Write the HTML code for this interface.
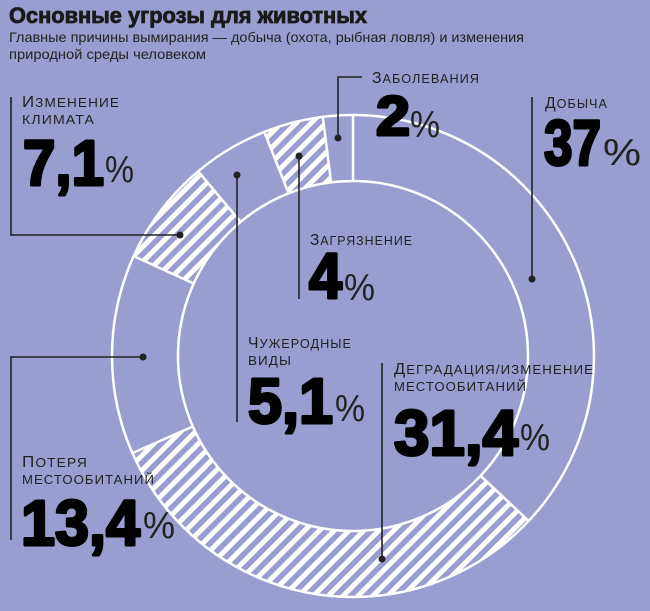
<!DOCTYPE html>
<html><head><meta charset="utf-8"><style>
html,body{margin:0;padding:0;background:#9a9dcf;}
svg{display:block;}
</style></head><body>
<svg width="650" height="611" viewBox="0 0 650 611" xmlns="http://www.w3.org/2000/svg" font-family="Liberation Sans, DejaVu Sans, sans-serif">
<defs>
<pattern id="h" width="10.5" height="10.5" patternUnits="userSpaceOnUse" patternTransform="rotate(45)">
<rect x="0" y="0" width="5" height="10.5" fill="#fff"/>
</pattern>
</defs>
<rect width="650" height="611" fill="#9a9dcf"/>
<path d="M528.7,521 A241,241 0 0 1 132.4,453.1 L192.8,426.5 A175,175 0 0 0 480.6,475.8 Z" fill="url(#h)"/>
<path d="M133.7,256.1 A241,241 0 0 1 198.2,171.3 L240.6,221.9 A175,175 0 0 0 193.7,283.5 Z" fill="url(#h)"/>
<path d="M264.3,131.9 A241,241 0 0 1 322.8,116.9 L331.1,182.4 A175,175 0 0 0 288.6,193.3 Z" fill="url(#h)"/>
<circle cx="353" cy="356" r="241" fill="none" stroke="#fff" stroke-width="2.5"/>
<circle cx="353" cy="356" r="175" fill="none" stroke="#fff" stroke-width="2.5"/>
<g stroke="#fff" stroke-width="2.5">
<line x1="353" y1="115" x2="353" y2="181"/>
<line x1="322.8" y1="116.9" x2="331.1" y2="182.4"/>
<line x1="264.3" y1="131.9" x2="288.6" y2="193.3"/>
<line x1="198.2" y1="171.3" x2="240.6" y2="221.9"/>
<line x1="133.7" y1="256.1" x2="193.7" y2="283.5"/>
<line x1="132.4" y1="453.1" x2="192.8" y2="426.5"/>
<line x1="528.7" y1="521" x2="480.6" y2="475.8"/>
</g>
<g stroke="#222" stroke-width="1.6" fill="none">
<polyline points="362,77 338,77 338,138"/>
<polyline points="11,97 11,235 180,235"/>
<line x1="532" y1="97" x2="532" y2="279"/>
<line x1="299" y1="156" x2="299" y2="299"/>
<line x1="237" y1="175" x2="237" y2="422"/>
<line x1="382" y1="363" x2="382" y2="559"/>
<polyline points="143,357 11,357 11,540"/>
</g>
<g fill="#222">
<circle cx="338" cy="138" r="3.5"/>
<circle cx="180" cy="235" r="3.5"/>
<circle cx="532" cy="279" r="3.5"/>
<circle cx="299" cy="156" r="3.5"/>
<circle cx="237" cy="175" r="3.5"/>
<circle cx="382" cy="559" r="3.5"/>
<circle cx="143" cy="357" r="3.5"/>
</g>
<text x="9" y="23" font-size="22" font-weight="bold" fill="#1a1a1a" stroke="#1a1a1a" stroke-width="0.8" textLength="358" lengthAdjust="spacingAndGlyphs">Основные угрозы для животных</text>
<g font-size="14" fill="#222">
<text x="9" y="42" textLength="515" lengthAdjust="spacingAndGlyphs">Главные причины вымирания — добыча (охота, рыбная ловля) и изменения</text>
<text x="9" y="59" textLength="197" lengthAdjust="spacingAndGlyphs">природной среды человеком</text>
</g>
<g font-size="12.5" fill="#222" letter-spacing="1">
<text x="372" y="83" textLength="108" lengthAdjust="spacingAndGlyphs"><tspan font-size="15.5">З</tspan>АБОЛЕВАНИЯ</text>
<text x="22" y="107" textLength="98" lengthAdjust="spacingAndGlyphs"><tspan font-size="15.5">И</tspan>ЗМЕНЕНИЕ</text>
<text x="22" y="124" textLength="73" lengthAdjust="spacingAndGlyphs">КЛИМАТА</text>
<text x="545" y="108" textLength="63" lengthAdjust="spacingAndGlyphs"><tspan font-size="15.5">Д</tspan>ОБЫЧА</text>
<text x="310" y="245" textLength="103" lengthAdjust="spacingAndGlyphs"><tspan font-size="15.5">З</tspan>АГРЯЗНЕНИЕ</text>
<text x="248" y="348" textLength="104" lengthAdjust="spacingAndGlyphs"><tspan font-size="15.5">Ч</tspan>УЖЕРОДНЫЕ</text>
<text x="248" y="365" textLength="44" lengthAdjust="spacingAndGlyphs">ВИДЫ</text>
<text x="394" y="374" textLength="200" lengthAdjust="spacingAndGlyphs"><tspan font-size="15.5">Д</tspan>ЕГРАДАЦИЯ/ИЗМЕНЕНИЕ</text>
<text x="394" y="391" textLength="133" lengthAdjust="spacingAndGlyphs">МЕСТООБИТАНИЙ</text>
<text x="22" y="467" textLength="66" lengthAdjust="spacingAndGlyphs"><tspan font-size="15.5">П</tspan>ОТЕРЯ</text>
<text x="22" y="484" textLength="133" lengthAdjust="spacingAndGlyphs">МЕСТООБИТАНИЙ</text>
</g>
<g font-size="64" font-weight="bold" fill="#000" stroke="#000" stroke-width="3" stroke-linejoin="round">
<text x="376" y="135" textLength="34" lengthAdjust="spacingAndGlyphs" font-size="56">2</text>
<text x="544" y="165" textLength="57" lengthAdjust="spacingAndGlyphs">37</text>
<text x="23" y="185" textLength="81" lengthAdjust="spacingAndGlyphs">7,1</text>
<text x="309" y="298" textLength="33" lengthAdjust="spacingAndGlyphs">4</text>
<text x="248" y="423" textLength="85" lengthAdjust="spacingAndGlyphs">5,1</text>
<text x="394" y="455" textLength="124" lengthAdjust="spacingAndGlyphs">31,4</text>
<text x="21" y="545" textLength="119" lengthAdjust="spacingAndGlyphs">13,4</text>
</g>
<g font-size="38" fill="#222">
<text x="410" y="137" textLength="30" lengthAdjust="spacingAndGlyphs">%</text>
<text x="603" y="165" textLength="38" lengthAdjust="spacingAndGlyphs">%</text>
<text x="105" y="182" textLength="29" lengthAdjust="spacingAndGlyphs">%</text>
<text x="344" y="300" textLength="31" lengthAdjust="spacingAndGlyphs">%</text>
<text x="335" y="421" textLength="30" lengthAdjust="spacingAndGlyphs">%</text>
<text x="520" y="450" textLength="30" lengthAdjust="spacingAndGlyphs">%</text>
<text x="143" y="538" textLength="32" lengthAdjust="spacingAndGlyphs">%</text>
</g>
</svg>
</body></html>
